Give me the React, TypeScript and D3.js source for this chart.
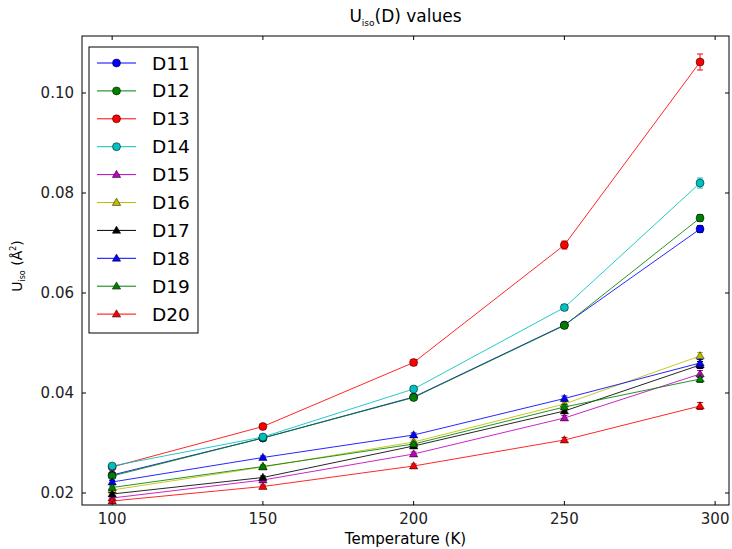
import React from "react";
import * as d3 from "d3";

// temperatures (K)
const temps = [100, 150, 200, 250, 295];

const seriesNames = ["D11", "D12", "D13", "D14", "D15", "D16", "D17", "D18", "D19", "D20"];
const seriesColors = ["#0000ff", "#008000", "#ff0000", "#00bfbf", "#bf00bf", "#bfbf00", "#000000", "#0000ff", "#008000", "#ff0000"];
const seriesMarkers = ["circle", "circle", "circle", "circle", "triangle", "triangle", "triangle", "triangle", "triangle", "triangle"];

const d11 = [0.0236, 0.0310, 0.0392, 0.0536, 0.0728];
const d12 = [0.0234, 0.0310, 0.0391, 0.0535, 0.0750];
const d13 = [0.0252, 0.0333, 0.0461, 0.0696, 0.1062];
const d14 = [0.0254, 0.0312, 0.0408, 0.0571, 0.0820];
const d15 = [0.0190, 0.0226, 0.0278, 0.0350, 0.0438];
const d16 = [0.0206, 0.0252, 0.0302, 0.0378, 0.0474];
const d17 = [0.0198, 0.0231, 0.0294, 0.0364, 0.0456];
const d18 = [0.0222, 0.0271, 0.0316, 0.0389, 0.0460];
const d19 = [0.0211, 0.0253, 0.0298, 0.0372, 0.0428];
const d20 = [0.0184, 0.0213, 0.0254, 0.0306, 0.0374];
const seriesValues = [d11, d12, d13, d14, d15, d16, d17, d18, d19, d20];

const errD13 = [0.0004, 0.0005, 0.0006, 0.0008, 0.0016];
const errD14 = [0.0004, 0.0005, 0.0005, 0.0006, 0.0010];
const errOther = [0.0003, 0.0003, 0.0004, 0.0005, 0.0007];
const seriesErrors = [errOther, errOther, errD13, errD14, errOther, errOther, errOther, errOther, errOther, errOther];

const xTicks = [100, 150, 200, 250, 300];
const yTicks = [0.02, 0.04, 0.06, 0.08, 0.1];

const W = 732;
const H = 549;
const m = { left: 82, top: 36, right: 729, bottom: 505 };

const x = d3.scaleLinear().domain([90, 304.6]).range([m.left, m.right]);
const y = d3.scaleLinear().domain([0.0176, 0.1114]).range([m.bottom, m.top]);

const font = "DejaVu Sans, sans-serif";

const Marker = ({ kind, cx, cy, color }: { kind: string; cx: number; cy: number; color: string }) => {
  if (kind === "circle") {
    return <circle cx={cx} cy={cy} r={4} fill={color} stroke="#000" strokeWidth={0.5} />;
  }
  const tri = d3.symbol().type(d3.symbolTriangle).size(30)();
  return <path d={tri || ""} transform={`translate(${cx},${cy + 0.5})`} fill={color} stroke="#000" strokeWidth={0.5} />;
};

export default function App() {
  const line = d3.line<number>().x((_, i) => x(temps[i])).y((v) => y(v));
  const legendX = 89;
  const legendY = 47;
  const rowH = 27.9;

  return (
    <svg width={W} height={H} style={{ position: "absolute", left: 0, top: 0, background: "#fff" }} fontFamily={font}>
      <rect x={0} y={0} width={W} height={H} fill="#fff" />
      {/* series */}
      {seriesValues.map((vals, si) => (
        <g key={seriesNames[si]}>
          <path d={line(vals) || ""} fill="none" stroke={seriesColors[si]} strokeWidth={1} strokeOpacity={0.85} />
          {vals.map((v, i) => {
            const e = seriesErrors[si][i];
            const px = x(temps[i]);
            return (
              <g key={i}>
                <line x1={px} x2={px} y1={y(v - e)} y2={y(v + e)} stroke={seriesColors[si]} strokeWidth={1} />
                <line x1={px - 3} x2={px + 3} y1={y(v + e)} y2={y(v + e)} stroke={seriesColors[si]} strokeWidth={1} />
                <line x1={px - 3} x2={px + 3} y1={y(v - e)} y2={y(v - e)} stroke={seriesColors[si]} strokeWidth={1} />
              </g>
            );
          })}
          {vals.map((v, i) => (
            <Marker key={"m" + i} kind={seriesMarkers[si]} cx={x(temps[i])} cy={y(v)} color={seriesColors[si]} />
          ))}
        </g>
      ))}

      {/* frame */}
      <rect x={m.left} y={m.top} width={m.right - m.left} height={m.bottom - m.top} fill="none" stroke="#000" strokeWidth={1} />

      {/* ticks */}
      {xTicks.map((t) => (
        <g key={"x" + t}>
          <line x1={x(t)} x2={x(t)} y1={m.bottom} y2={m.bottom - 4} stroke="#000" />
          <line x1={x(t)} x2={x(t)} y1={m.top} y2={m.top + 4} stroke="#000" />
          <text x={x(t)} y={m.bottom + 19} textAnchor="middle" fontSize={15} fill="#222">
            {t}
          </text>
        </g>
      ))}
      {yTicks.map((t) => (
        <g key={"y" + t}>
          <line x1={m.left} x2={m.left + 4} y1={y(t)} y2={y(t)} stroke="#000" />
          <line x1={m.right} x2={m.right - 4} y1={y(t)} y2={y(t)} stroke="#000" />
          <text x={m.left - 8} y={y(t) + 5} textAnchor="end" fontSize={15} fill="#222">
            {t.toFixed(2)}
          </text>
        </g>
      ))}

      {/* title and labels */}
      <text x={(m.left + m.right) / 2} y={22} textAnchor="middle" fontSize={17} fill="#000">
        U<tspan fontSize={9} dy={4}>iso</tspan>
        <tspan dy={-4}>(D) values</tspan>
      </text>
      <text x={(m.left + m.right) / 2} y={544} textAnchor="middle" fontSize={15} fill="#000">
        Temperature (K)
      </text>
      <text transform={`translate(22, 266) rotate(-90)`} textAnchor="middle" fontSize={14} fill="#000">
        U<tspan fontSize={8} dy={3}>iso</tspan>
        <tspan dy={-3}> (Å</tspan>
        <tspan fontSize={8} dy={-6}>2</tspan>
        <tspan dy={6}>)</tspan>
      </text>

      {/* legend */}
      <rect x={legendX} y={legendY} width={109} height={286} fill="#fff" stroke="#000" strokeWidth={1} />
      {seriesNames.map((name, i) => {
        const ly = legendY + 16 + i * rowH;
        return (
          <g key={"l" + name}>
            <line x1={97} x2={136} y1={ly} y2={ly} stroke={seriesColors[i]} strokeWidth={1} />
            <Marker kind={seriesMarkers[i]} cx={116.5} cy={ly} color={seriesColors[i]} />
            <text x={152} y={ly + 6.5} fontSize={18.5} fill="#000">
              {name}
            </text>
          </g>
        );
      })}
    </svg>
  );
}
